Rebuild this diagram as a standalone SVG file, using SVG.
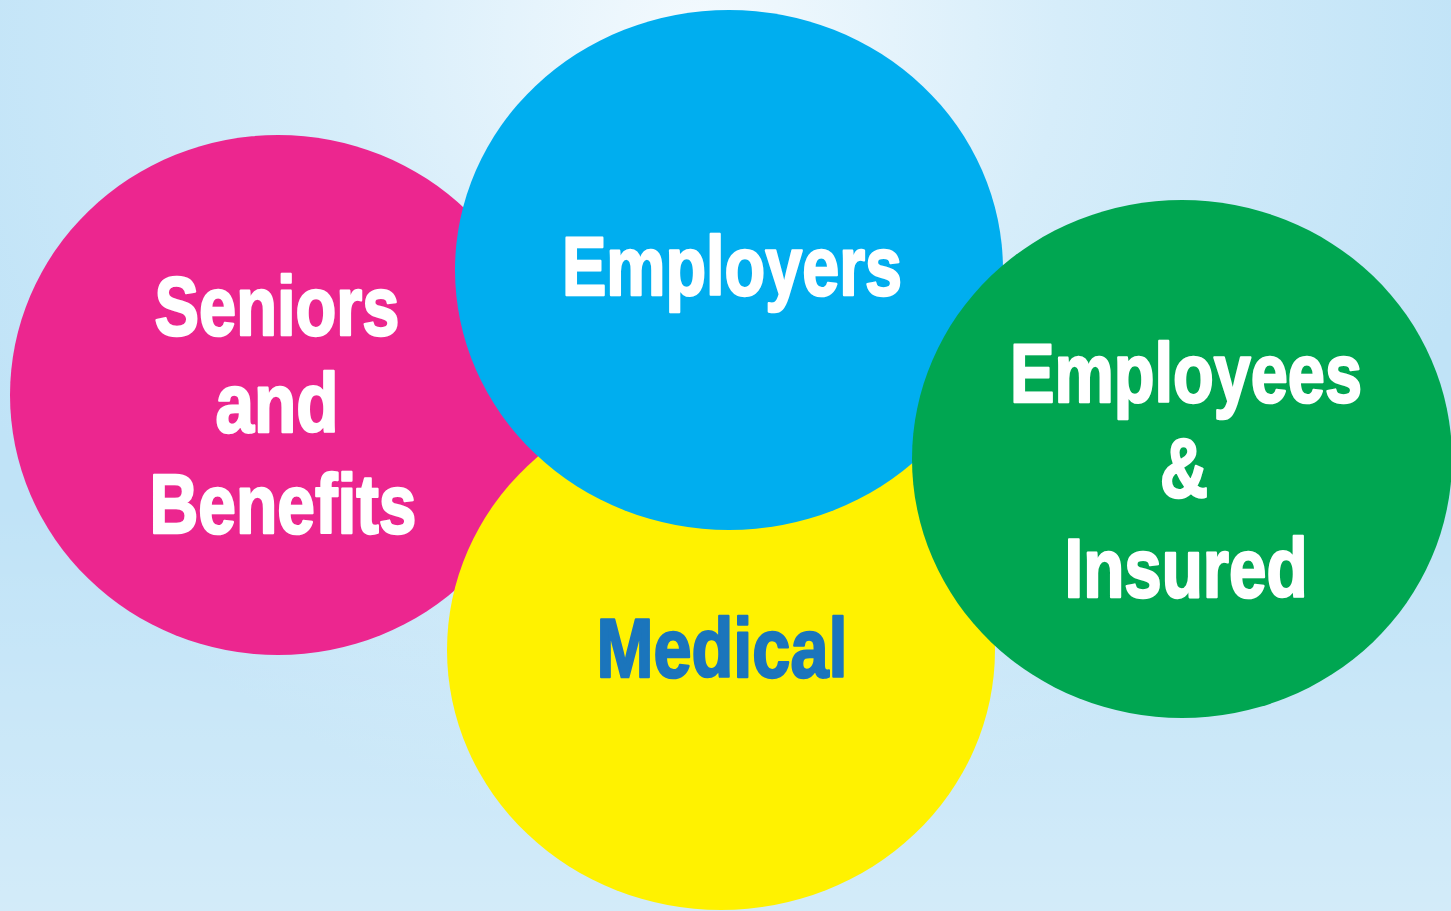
<svg xmlns="http://www.w3.org/2000/svg" width="1451" height="911" viewBox="0 0 1451 911">
<defs>
<radialGradient id="bg" cx="700" cy="40" r="800" gradientUnits="userSpaceOnUse">
<stop offset="0" stop-color="#f4fafe"/>
<stop offset="0.45" stop-color="#d6edfa"/>
<stop offset="1" stop-color="#c0e3f7"/>
</radialGradient>
<linearGradient id="fade" x1="0" y1="0" x2="0" y2="1">
<stop offset="0.55" stop-color="#ffffff" stop-opacity="0"/>
<stop offset="1" stop-color="#ffffff" stop-opacity="0.3"/>
</linearGradient>
</defs>
<style>
.lbl{font-family:"Liberation Sans",Arial,sans-serif;font-weight:bold;font-size:84px;text-anchor:middle;stroke-width:2.5px;stroke-linejoin:round}
.w{fill:#ffffff;stroke:#ffffff}
.b{fill:#1b75bc;stroke:#1b75bc}
</style>
<rect x="0" y="0" width="1451" height="911" fill="url(#bg)"/>
<rect x="0" y="0" width="1451" height="911" fill="url(#fade)"/>
<g id="seniors">
<ellipse cx="278" cy="395" rx="268" ry="260" fill="#ec268f"/>
<text class="lbl w" x="277" y="335" textLength="245" lengthAdjust="spacingAndGlyphs">Seniors</text>
<text class="lbl w" x="277" y="432" textLength="123" lengthAdjust="spacingAndGlyphs">and</text>
<text class="lbl w" x="283" y="533" textLength="267" lengthAdjust="spacingAndGlyphs">Benefits</text>
</g>
<g id="medical">
<ellipse cx="721" cy="650" rx="274" ry="260" fill="#fff200"/>
<text class="lbl b" x="722" y="677" textLength="251" lengthAdjust="spacingAndGlyphs">Medical</text>
</g>
<g id="employers">
<ellipse cx="729" cy="270" rx="274" ry="260" fill="#00aeef"/>
<text class="lbl w" x="732" y="295" textLength="340" lengthAdjust="spacingAndGlyphs">Employers</text>
</g>
<g id="employees">
<ellipse cx="1182" cy="459" rx="270" ry="259" fill="#00a651"/>
<text class="lbl w" x="1186" y="402" textLength="352" lengthAdjust="spacingAndGlyphs">Employees</text>
<text class="lbl w" x="1184" y="497" textLength="48" lengthAdjust="spacingAndGlyphs">&amp;</text>
<text class="lbl w" x="1186" y="597" textLength="243" lengthAdjust="spacingAndGlyphs">Insured</text>
</g>
<g id="connectors"/>
</svg>
